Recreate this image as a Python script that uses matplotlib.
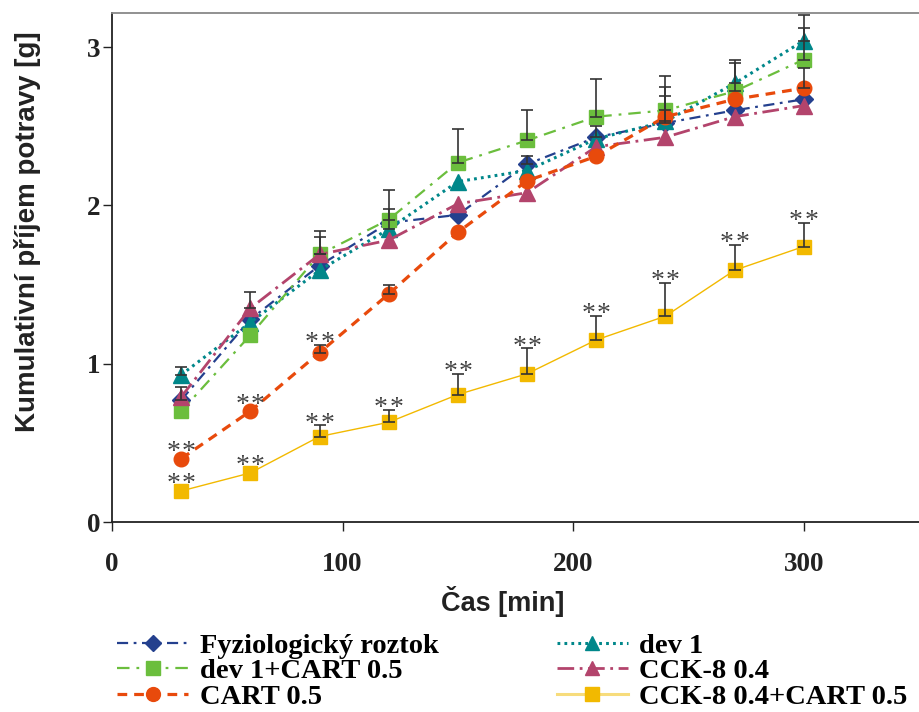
import numpy as np
import matplotlib
matplotlib.use("Agg")
import matplotlib.pyplot as plt
from matplotlib.lines import Line2D

plt.rcParams['lines.scale_dashes'] = False

# cas [min]
cas = [30, 60, 90, 120, 150, 180, 210, 240, 270, 300]

# kumulativni prijem potravy [g]
fyz = [0.77, 1.28, 1.62, 1.89, 1.94, 2.26, 2.43, 2.52, 2.60, 2.67]
dev1 = [0.93, 1.26, 1.59, 1.85, 2.15, 2.22, 2.42, 2.53, 2.77, 3.04]
dev1_cart = [0.70, 1.18, 1.69, 1.91, 2.27, 2.41, 2.56, 2.60, 2.72, 2.92]
cck = [0.79, 1.35, 1.69, 1.78, 2.01, 2.08, 2.37, 2.43, 2.56, 2.63]
cart = [0.40, 0.70, 1.07, 1.44, 1.83, 2.155, 2.31, 2.56, 2.67, 2.74]
cck_cart = [0.196, 0.31, 0.54, 0.63, 0.805, 0.936, 1.15, 1.30, 1.59, 1.74]

# SEM (jen horni, 0 = neviditelne)
fyz_err = [0.08, 0, 0, 0, 0, 0.05, 0.07, 0.23, 0, 0]
dev1_err = [0.05, 0, 0, 0.13, 0, 0, 0, 0.16, 0.15, 0.16]
dev1_cart_err = [0, 0, 0.11, 0.19, 0.21, 0.19, 0.24, 0.22, 0.18, 0.20]
cck_err = [0, 0.10, 0.15, 0, 0, 0, 0, 0, 0, 0]
cart_err = [0, 0, 0.05, 0.06, 0, 0, 0, 0, 0, 0.13]
cck_cart_err = [0, 0, 0.07, 0.08, 0.13, 0.16, 0.15, 0.21, 0.16, 0.15]

# p < 0.01 oznaceni
cart_sig = [30, 60, 90]
cck_cart_sig = cas

labels = ['Fyziologický roztok', 'dev 1', 'dev 1+CART 0.5', 'CCK-8 0.4',
          'CART 0.5', 'CCK-8 0.4+CART 0.5']

serif = 'Liberation Serif'
sans = 'Liberation Sans'

styles = [
    dict(color='#24408E', marker='D', ms=9, lw=1.6, ls=(0, (8, 4, 2, 4))),
    dict(color='#00878A', marker='^', ms=11, lw=2.2, ls=(0, (2, 3))),
    dict(color='#6BBE3D', marker='s', ms=10, lw=1.6, ls=(0, (9, 5, 2, 5))),
    dict(color='#B3446C', marker='^', ms=11, lw=2.0, ls=(0, (12, 4, 2, 4))),
    dict(color='#E84A0C', marker='o', ms=10.5, lw=2.3, ls=(0, (7, 5))),
    dict(color='#F2B900', marker='s', ms=10, lw=1.0, ls='-'),
]
series = [fyz, dev1, dev1_cart, cck, cart, cck_cart]
errs = [fyz_err, dev1_err, dev1_cart_err, cck_err, cart_err, cck_cart_err]

fig = plt.figure(figsize=(9.19, 7.12), dpi=100)
ax = fig.add_axes([112 / 919, 1 - 522 / 712, 1 - 112 / 919, (522 - 13) / 712])

for vals, err, st in zip(series, errs, styles):
    ax.plot(cas, vals, color=st['color'], ls=st['ls'], lw=st['lw'],
            marker=st['marker'], ms=st['ms'], mec=st['color'], zorder=2)
    x = np.array(cas)
    v = np.array(vals)
    e = np.array(err)
    m = e > 0
    ax.errorbar(x[m], v[m], yerr=[np.zeros(m.sum()), e[m]], fmt='none',
                ecolor='#333333', elinewidth=1.2, capsize=4.5, capthick=1.2,
                zorder=3)

# hvezdicky (dve oddelene)
for sig, vals, err in [(cart_sig, cart, cart_err), (cck_cart_sig, cck_cart, cck_cart_err)]:
    for t in sig:
        i = cas.index(t)
        top = vals[i] + err[i]
        if err[i] == 0:
            top += 0.03
        for dx in (-5.5, 5.5):
            ax.annotate('*', (t, top), xytext=(dx, 1), textcoords='offset points',
                        ha='center', va='center', fontsize=20, family=serif,
                        color='#444444', zorder=4)

ax.set_xlim(0, 350)
ax.set_ylim(0, 3.215)
ax.set_xticks([0, 100, 200, 300])
ax.set_yticks([0, 1, 2, 3])
ax.tick_params(direction='out', length=6.5, width=1, colors='#222222')
ax.tick_params(axis='x', pad=15)
ax.tick_params(axis='y', pad=2)
for lab in ax.get_xticklabels() + ax.get_yticklabels():
    lab.set_family(serif)
    lab.set_fontweight('bold')
    lab.set_fontsize(19.5)
    lab.set_color('#222222')

ax.spines['right'].set_visible(False)
ax.spines['top'].set_color('#888888')
ax.spines['left'].set_color('#222222')
ax.spines['bottom'].set_color('#222222')
for s in ['top', 'left', 'bottom']:
    ax.spines[s].set_linewidth(1.3)

ax.set_xlabel('Čas [min]', family=sans, fontweight='bold', fontsize=19.5,
              color='#222222')
ax.xaxis.set_label_coords(0.4845, -0.125)
ax.set_ylabel('Kumulativní příjem potravy [g]', family=sans, fontweight='bold',
              fontsize=20, color='#222222')
ax.yaxis.set_label_coords(-0.088, 0.57)

# legenda
handles = []
for st in styles:
    handles.append(Line2D([], [], color=st['color'], ls=st['ls'], lw=st['lw'],
                          marker=st['marker'], ms=st['ms'] * 0.95, mec=st['color']))
handles[5] = Line2D([], [], color='#F7DC7C', ls='-', lw=2.2, marker='s',
                    ms=9.5, mfc='#F2B900', mec='#F2B900')
order = [0, 2, 4, 1, 3, 5]
fig.legend([handles[i] for i in order], [labels[i] for i in order],
           loc='upper left', bbox_to_anchor=(117 / 919, 1 - 633 / 712),
           bbox_transform=fig.transFigure, ncol=2, frameon=False,
           borderpad=0, borderaxespad=0, handlelength=2.5, handletextpad=0.4,
           columnspacing=4.15, labelspacing=-0.02,
           prop=dict(family=serif, weight='bold', size=20.5))

fig.savefig('out.png', dpi=100)
